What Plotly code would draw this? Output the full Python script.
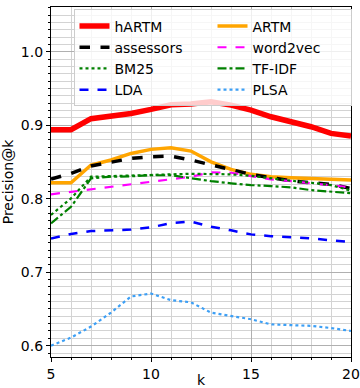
import plotly.graph_objects as go

k = list(range(5, 21))

hartm = [0.894, 0.894, 0.909, 0.9125, 0.916, 0.9216, 0.928, 0.929, 0.932, 0.9275, 0.9207, 0.9116, 0.9048, 0.898, 0.889, 0.8853]
artm = [0.8218, 0.8218, 0.8459, 0.8527, 0.8617, 0.8672, 0.8694, 0.8649, 0.8503, 0.840, 0.8332, 0.830, 0.8286, 0.8277, 0.8264, 0.8254]
assessors = [0.8268, 0.8345, 0.8445, 0.8503, 0.855, 0.8572, 0.858, 0.8527, 0.8459, 0.839, 0.8332, 0.8286, 0.8245, 0.8218, 0.8196, 0.814]
word2vec = [0.806, 0.8095, 0.8132, 0.8164, 0.820, 0.8231, 0.8268, 0.830, 0.836, 0.8354, 0.8309, 0.8264, 0.824, 0.821, 0.8186, 0.8155]
bm25 = [0.778, 0.8005, 0.830, 0.8309, 0.831, 0.832, 0.8336, 0.834, 0.8336, 0.8332, 0.8313, 0.8277, 0.8245, 0.8218, 0.8186, 0.8110]
tfidf = [0.7665, 0.789, 0.8277, 0.830, 0.8305, 0.832, 0.832, 0.8277, 0.824, 0.821, 0.8186, 0.8173, 0.8155, 0.8118, 0.8095, 0.8075]
lda = [0.746, 0.752, 0.756, 0.757, 0.758, 0.761, 0.767, 0.769, 0.762, 0.757, 0.7515, 0.749, 0.748, 0.746, 0.7435, 0.741]
plsa = [0.600, 0.611, 0.626, 0.645, 0.667, 0.671, 0.662, 0.659, 0.645, 0.640, 0.636, 0.629, 0.628, 0.627, 0.624, 0.620]

x_ticks = [5, 10, 15, 20]
y_ticks = [0.6, 0.7, 0.8, 0.9, 1.0]

# legend order (row-wise, two columns)
series = [
    ("hARTM", hartm, "#ff0000", 5.5, "solid"),
    ("ARTM", artm, "#ffa500", 3.5, "solid"),
    ("assessors", assessors, "#000000", 3.5, "dash"),
    ("word2vec", word2vec, "#ff00ff", 2.2, "dash"),
    ("BM25", bm25, "#008000", 2.2, "dot"),
    ("TF-IDF", tfidf, "#008000", 2.2, "dashdot"),
    ("LDA", lda, "#0000ff", 2.5, "dash"),
    ("PLSA", plsa, "#3c9ff5", 2.2, "dot"),
]

fig = go.Figure()
for name, vals, color, width, dash in series:
    fig.add_trace(go.Scatter(
        x=k, y=vals, mode="lines", name=name,
        line=dict(color=color, width=width, dash=dash),
    ))

fig.update_layout(
    width=360, height=388,
    margin=dict(l=51, r=9, t=7, b=31),
    paper_bgcolor="white", plot_bgcolor="white",
    font=dict(family="DejaVu Sans", size=14, color="black"),
    showlegend=True,
    legend=dict(
        orientation="h", x=0.075, y=0.993, xanchor="left", yanchor="top",
        entrywidth=93, entrywidthmode="pixels",
        bgcolor="rgba(255,255,255,0.8)", bordercolor="#cccccc", borderwidth=1,
        font=dict(size=14), tracegroupgap=0, itemwidth=30,
    ),
)
fig.update_xaxes(
    range=[5, 20], tickvals=x_ticks, ticks="outside", ticklen=4, tickcolor="black",
    showline=True, linecolor="black", linewidth=1.2, mirror=True,
    showgrid=True, gridcolor="#b0b0b0", gridwidth=1,
    minor=dict(dtick=1, showgrid=True, gridcolor="#d3d3d3", ticks="outside", ticklen=2, tickcolor="black"),
    zeroline=False, automargin=False,
    title=dict(text="k", standoff=0, font=dict(size=14)),
)
fig.update_yaxes(
    range=[0.5846, 1.061], tickvals=y_ticks, ticktext=["0.6", "0.7", "0.8", "0.9", "1.0"],
    ticks="outside", ticklen=4, tickcolor="black",
    showline=True, linecolor="black", linewidth=1.2, mirror=True,
    showgrid=True, gridcolor="#b0b0b0", gridwidth=1,
    minor=dict(dtick=0.01, tick0=0.6, showgrid=True, gridcolor="#d3d3d3", ticks="outside", ticklen=2, tickcolor="black"),
    zeroline=False, automargin=False,
    title=dict(text="Precision@k", standoff=4, font=dict(size=14)),
)

fig.write_html(
    "out.html",
    config={"displayModeBar": False},
    post_script="document.body.style.margin='0px';document.body.style.overflow='hidden';",
)
